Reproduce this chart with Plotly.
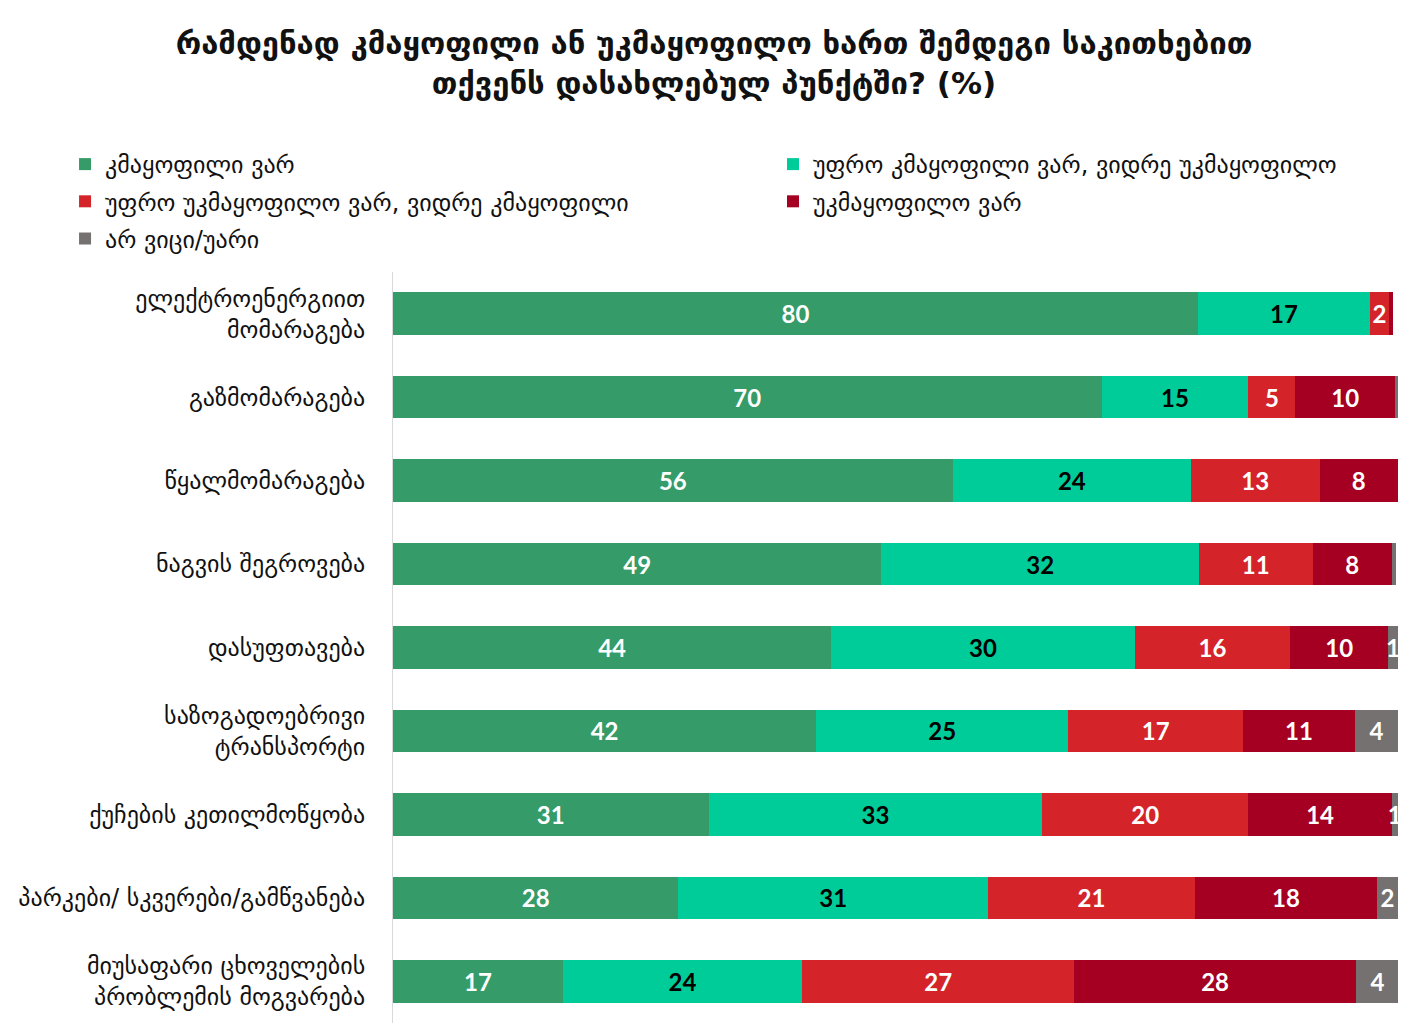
import plotly.graph_objects as go

# categories (top to bottom)
categories = [
    "ელექტროენერგიით<br>მომარაგება",
    "გაზმომარაგება",
    "წყალმომარაგება",
    "ნაგვის შეგროვება",
    "დასუფთავება",
    "საზოგადოებრივი<br>ტრანსპორტი",
    "ქუჩების კეთილმოწყობა",
    "პარკები/ სკვერები/გამწვანება",
    "მიუსაფარი ცხოველების<br>პრობლემის მოგვარება",
]

series_names = [
    "კმაყოფილი ვარ",
    "უფრო კმაყოფილი ვარ, ვიდრე უკმაყოფილო",
    "უფრო უკმაყოფილო ვარ, ვიდრე კმაყოფილი",
    "უკმაყოფილო ვარ",
    "არ ვიცი/უარი",
]

satisfied = [80.1, 70.5, 55.7, 48.6, 43.6, 42.1, 31.4, 28.4, 16.9]
more_satisfied = [17.1, 14.6, 23.7, 31.6, 30.2, 25.1, 33.2, 30.8, 23.8]
more_unsatisfied = [1.9, 4.7, 12.8, 11.3, 15.5, 17.4, 20.5, 20.6, 27.1]
unsatisfied = [0.45, 9.9, 7.8, 7.9, 9.7, 11.1, 14.3, 18.1, 28.0]
dont_know = [0.0, 0.3, 0.0, 0.45, 1.0, 4.3, 0.55, 2.1, 4.3]

colors = ["#359B68", "#00CC99", "#D42429", "#A50021", "#767171"]
text_colors = ["white", "black", "white", "white", "white"]
legends = ["legend", "legend2", "legend", "legend2", "legend"]

georgian_font = "DejaVu Sans"

fig = go.Figure()

all_values = [satisfied, more_satisfied, more_unsatisfied, unsatisfied, dont_know]
for i, (name, vals) in enumerate(zip(series_names, all_values)):
    # show label only where rounded value is at least 1
    labels = [f"{v:.0f}" if round(v) >= 1 else "" for v in vals]
    fig.add_trace(
        go.Bar(
            y=categories,
            x=vals,
            name=name,
            orientation="h",
            marker=dict(color=colors[i], line=dict(width=0)),
            text=labels,
            textposition="inside",
            insidetextanchor="middle",
            textangle=0,
            constraintext="none",
            textfont=dict(family="Lato", size=24, color=text_colors[i], weight="bold"),
            legend=legends[i],
            legendgroup=name,
            hoverinfo="x+name",
        )
    )

# page body adds an 8px offset, so the figure is sized 8px smaller
fig.update_layout(
    width=1412,
    height=1023,
    barmode="stack",
    bargap=0.49,
    plot_bgcolor="white",
    paper_bgcolor="white",
    margin=dict(l=385, r=22, t=264, b=8, autoexpand=False),
    title=dict(
        text="რამდენად კმაყოფილი ან უკმაყოფილო ხართ შემდეგი საკითხებით<br>თქვენს დასახლებულ პუნქტში? (%)",
        x=0.5,
        xanchor="center",
        yref="container",
        y=0.955,
        yanchor="middle",
        font=dict(family=georgian_font, size=31, color="#111111", weight="bold"),
    ),
    legend=dict(
        xref="container",
        yref="container",
        x=0.0404,
        y=0.869,
        xanchor="left",
        yanchor="top",
        font=dict(family=georgian_font, size=24, color="#111111"),
        tracegroupgap=3,
        itemwidth=30,
        traceorder="grouped",
    ),
    legend2=dict(
        xref="container",
        yref="container",
        x=0.5418,
        y=0.869,
        xanchor="left",
        yanchor="top",
        font=dict(family=georgian_font, size=24, color="#111111"),
        tracegroupgap=3,
        itemwidth=30,
        traceorder="grouped",
    ),
)

fig.update_xaxes(
    range=[0, 100],
    showgrid=False,
    showticklabels=False,
    zeroline=False,
    showline=False,
)
fig.update_yaxes(
    autorange="reversed",
    showgrid=False,
    showline=True,
    linecolor="#D9D9D9",
    linewidth=1,
    ticks="",
    ticklabelstandoff=22,
    tickfont=dict(family=georgian_font, size=24, color="#111111"),
)

fig.write_html("out.html")
